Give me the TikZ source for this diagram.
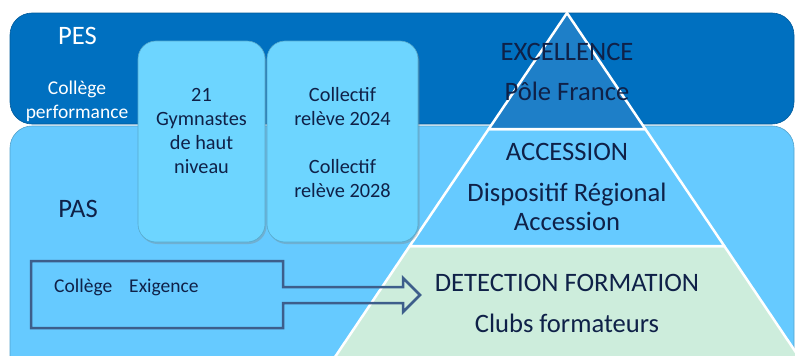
\documentclass[tikz,border=0pt]{standalone}
\usepackage{fontspec}
\setmainfont{Carlito}
\usetikzlibrary{shadows}
\definecolor{pesblue}{HTML}{0070C0}
\definecolor{pasblue}{HTML}{66CAFF}
\definecolor{excblue}{HTML}{1E7FC8}
\definecolor{detgreen}{HTML}{CDEDDC}
\definecolor{boxblue}{HTML}{6DD5FF}
\definecolor{navy}{HTML}{0F2148}
\definecolor{arrowblue}{HTML}{3D5E8B}
\newcommand\boxfont{\fontsize{20.3}{24}\selectfont}
\newcommand\pyrfont{\fontsize{26.6}{28.5}\selectfont}
\begin{document}
\begin{tikzpicture}[x=1pt,y=-1pt,
        band/.style={rounded corners=22pt,draw=#1!80!black,fill=#1,line width=0.6pt},
        level/.style={fill=#1,draw=white,line width=2.5pt,line join=round},
        gbox/.style={draw=boxblue!80!black,fill=boxblue,rounded corners=18pt,
            line width=0.6pt,drop shadow={opacity=0.35,shadow xshift=1.5pt,shadow yshift=-2pt}},
        txt/.style={text=navy,font=\boxfont,align=center,anchor=base,inner sep=0pt},
        wtxt/.style={txt,text=white},
        ptxt/.style={txt,font=\pyrfont},
    ]
    \useasboundingbox (0,0) rectangle (795,356);
    \clip (0,0) rectangle (795,356);
    % bands
    \draw[band=pasblue] (10,126) rectangle (794,385);
    \draw[band=pesblue] (10,13) rectangle (794,124);
    % pyramid
    \coordinate (top) at (567,13);
    \coordinate (l1) at (488.7,129);
    \coordinate (r1) at (645.3,129);
    \coordinate (l2) at (409.7,246);
    \coordinate (r2) at (724.3,246);
    \coordinate (l3) at (319.5,380);
    \coordinate (r3) at (814.5,380);
    \draw[level=detgreen] (l2) -- (r2) -- (r3) -- (l3) -- cycle;
    \draw[level=pasblue] (l1) -- (r1) -- (r2) -- (l2) -- cycle;
    \draw[level=excblue] (top) -- (r1) -- (l1) -- cycle;
    % boxes (text anchored on last baseline)
    \node[gbox,minimum width=127,minimum height=201] (g) at (201.5,141.5) {};
    \node[gbox,minimum width=151,minimum height=201] (c) at (342.5,141.5) {};
    \node[txt] (gt) at (201.5,173) {21\\Gymnastes\\de haut\\niveau};
    \node[txt] (ct) at (342.5,197) {Collectif\\relève 2024\\[24pt]Collectif\\relève 2028};
    % band labels
    \node[wtxt,font=\pyrfont] (pes) at (77.5,44) {PES};
    \node[wtxt,font=\fontsize{19.5}{24}\selectfont] (cp) at (77,118) {Collège\\performance};
    \node[txt,font=\pyrfont] (pas) at (78,217) {PAS};
    % level labels
    \node[ptxt] (exc) at (567,60) {EXCELLENCE};
    \node[ptxt] (pf) at (567,100) {Pôle France};
    \node[ptxt] (acc) at (567,160) {ACCESSION};
    \node[ptxt] (dra) at (567,230) {Dispositif Régional\\Accession};
    \node[ptxt] (det) at (567,291) {DETECTION FORMATION};
    \node[ptxt] (cf) at (567,332) {Clubs formateurs};
    % block arrow
    \draw[arrowblue,line width=2.5pt,line join=miter]
        (31,261) -- (283,261) -- (283,287) -- (403,287) -- (403,278)
        -- (420,295) -- (403,312) -- (403,303) -- (283,303) -- (283,328)
        -- (31,328) -- cycle;
    \node[txt,anchor=base west,font=\fontsize{19.5}{24}\selectfont] (ce) at (54,292) {Collège\hspace{17pt}Exigence};
\end{tikzpicture}
\end{document}
